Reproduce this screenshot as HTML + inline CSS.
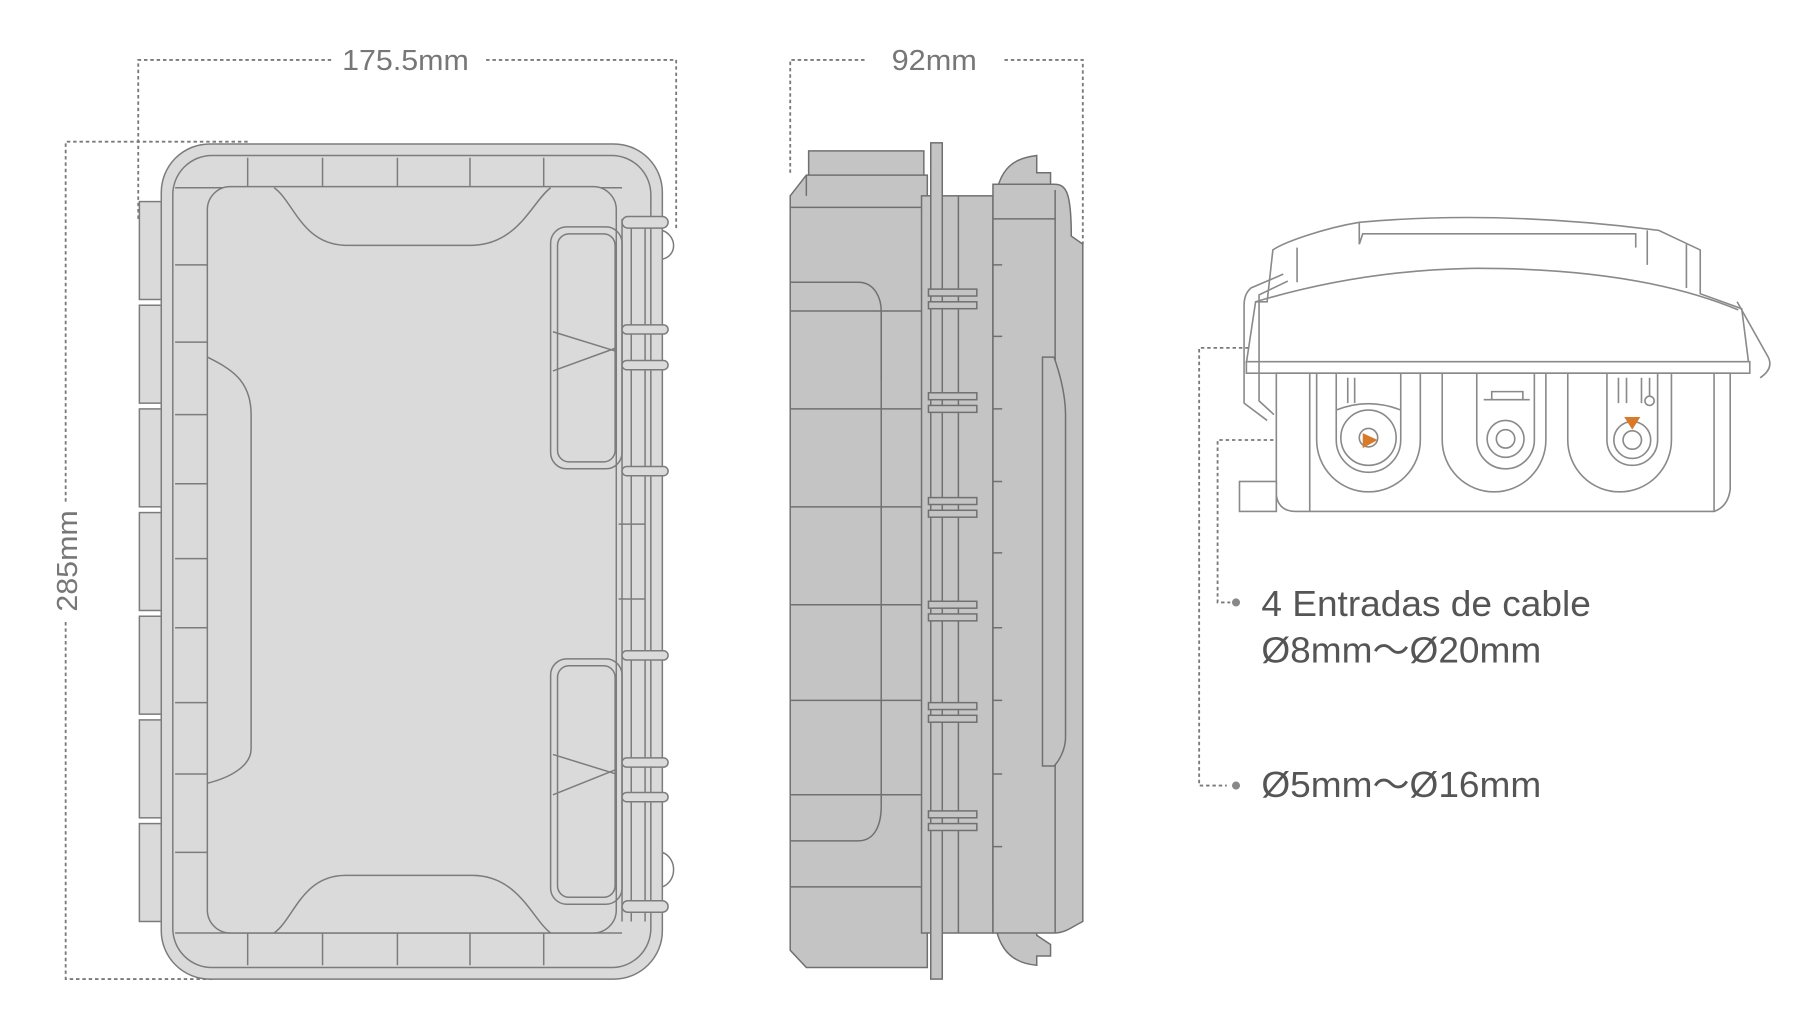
<!DOCTYPE html>
<html><head><meta charset="utf-8"><style>
html,body{margin:0;padding:0;background:#fff;}
svg{display:block;}
</style></head><body>
<svg width="1797" height="1024" viewBox="0 0 1560 889" preserveAspectRatio="none" xmlns="http://www.w3.org/2000/svg">
<rect width="1560" height="889" fill="#fff"/>
<g fill="none" stroke="#7a7a7a" stroke-width="1.6" stroke-dasharray="3,2.5">
  <path d="M120,190 V52 H288 M422,52 H587 V200"/>
  <path d="M215,123 H57 V438 M57,540 V850 H185"/>
  <path d="M686,150 V52 H752 M872,52 H940 V212"/>
  <path d="M1417,365 V302 H1041 V682 H1065"/>
  <path d="M1188,382 H1057 V523 H1068"/>
</g>
<g font-family="Liberation Sans, sans-serif" fill="#777" font-size="25">
  <text x="352" y="61" text-anchor="middle" textLength="110" lengthAdjust="spacingAndGlyphs">175.5mm</text>
  <text x="811" y="61" text-anchor="middle" textLength="74" lengthAdjust="spacingAndGlyphs">92mm</text>
  <text transform="translate(67,487) rotate(-90)" text-anchor="middle" textLength="88" lengthAdjust="spacingAndGlyphs">285mm</text>
</g>
<g font-family="Liberation Sans, sans-serif" fill="#555" font-size="31">
  <text x="1095" y="535" textLength="286" lengthAdjust="spacingAndGlyphs">4 Entradas de cable</text>
  <text x="1095" y="575" textLength="243" lengthAdjust="spacingAndGlyphs">Ø8mm～Ø20mm</text>
  <text x="1095" y="692" textLength="243" lengthAdjust="spacingAndGlyphs">Ø5mm～Ø16mm</text>
</g>
<circle cx="1073" cy="523" r="3.5" fill="#888"/>
<circle cx="1073" cy="682" r="3.5" fill="#888"/>

<!-- FRONT VIEW -->
<g stroke="#7c7c7c" stroke-width="1.3" fill="#dadada">
  <g>
    <rect x="121" y="175" width="30" height="85"/><rect x="121" y="265" width="30" height="85"/>
    <rect x="121" y="355" width="30" height="85"/><rect x="121" y="445" width="30" height="85"/>
    <rect x="121" y="535" width="30" height="85"/><rect x="121" y="625" width="30" height="85"/>
    <rect x="121" y="715" width="30" height="85"/>
  </g>
  <rect x="140" y="125" width="435" height="725" rx="42"/>
  <rect x="150" y="135" width="415" height="705" rx="34" fill="none"/>
  <path d="M152,163 H540 M152,810 H540" fill="none"/>
  <g fill="none">
    <path d="M215,137 V163 M280,137 V163 M345,137 V163 M408,137 V163 M472,137 V163"/>
    <path d="M215,810 V838 M280,810 V838 M345,810 V838 M408,810 V838 M472,810 V838"/>
    <path d="M152,230 H180 M152,297 H180 M152,360 H180 M152,420 H180 M152,485 H180 M152,545 H180 M152,610 H180 M152,672 H180 M152,740 H180"/>
    <path d="M537,455 H560 M537,520 H560"/>
  </g>
  <rect x="180" y="162" width="355" height="648" rx="20"/>
  <path d="M238,163 C255,175 262,212 300,213 H410 C450,212 462,175 478,163" fill="none"/>
  <path d="M238,810 C255,798 262,760 300,760 H410 C450,760 462,798 478,810" fill="none"/>
  <path d="M180,310 C200,320 218,330 218,360 V650 C218,665 200,675 180,680" fill="none"/>
  <rect x="478" y="197" width="62" height="210" rx="14" fill="none"/>
  <rect x="484" y="203" width="50" height="198" rx="10" fill="none"/>
  <path d="M480,288 L535,305 M480,322 L535,302" fill="none"/>
  <rect x="478" y="572" width="62" height="213" rx="14" fill="none"/>
  <rect x="484" y="578" width="50" height="201" rx="10" fill="none"/>
  <path d="M480,655 L535,672 M480,690 L535,668" fill="none"/>
  <path d="M540,190 V800 M548,190 V800 M560,190 V800" fill="none"/>
  <rect x="540" y="188" width="40" height="10" rx="5"/>
  <rect x="540" y="282" width="40" height="8" rx="4"/><rect x="540" y="313" width="40" height="8" rx="4"/>
  <rect x="540" y="405" width="40" height="8" rx="4"/>
  <rect x="540" y="565" width="40" height="8" rx="4"/><rect x="540" y="658" width="40" height="8" rx="4"/>
  <rect x="540" y="688" width="40" height="8" rx="4"/><rect x="540" y="782" width="40" height="10" rx="5"/>
  <path d="M575,200 C588,205 588,222 575,225 M575,740 C588,745 588,765 575,770" fill="none"/>
</g>

<!-- SIDE VIEW -->
<g stroke="#707070" stroke-width="1.3" fill="#c4c4c4">
  <rect x="702" y="131" width="100" height="40"/>
  <path d="M686,170 L700,152 H805 V840 H700 L686,825 Z"/>
  <path d="M700,152 V170 M686,180 H800 M686,270 H800 M686,355 H800 M686,440 H800 M686,525 H800 M686,608 H800 M686,690 H800 M686,770 H800" fill="none"/>
  <path d="M686,245 H745 C760,245 765,260 765,270 V330 M686,730 H745 C760,730 765,715 765,700" fill="none"/>
  <path d="M765,270 V700" fill="none"/>
  <rect x="800" y="170" width="62" height="640"/>
  <rect x="808" y="124" width="10" height="726"/>
  <path d="M832,170 V810" fill="none"/>
  <g>
    <rect x="806" y="251" width="42" height="6"/><rect x="806" y="262" width="42" height="6"/>
    <rect x="806" y="341" width="42" height="6"/><rect x="806" y="352" width="42" height="6"/>
    <rect x="806" y="432" width="42" height="6"/><rect x="806" y="443" width="42" height="6"/>
    <rect x="806" y="522" width="42" height="6"/><rect x="806" y="533" width="42" height="6"/>
    <rect x="806" y="610" width="42" height="6"/><rect x="806" y="621" width="42" height="6"/>
    <rect x="806" y="704" width="42" height="6"/><rect x="806" y="715" width="42" height="6"/>
  </g>
  <path d="M862,200 C862,150 875,138 900,135 V150 H912 V160 H900 V812 L912,820 V830 H900 V838 C875,836 862,820 862,780 Z"/>
  <path d="M862,160 L915,160 C925,160 930,165 930,205 L940,212 V800 C930,805 925,810 915,810 H862 Z"/>
  <path d="M862,190 H916 M916,165 V810" fill="none"/>
  <path d="M905,310 H915 C922,330 925,345 925,360 V640 C925,650 920,660 915,665 H905 Z"/>
  <g fill="none"><path d="M862,230 H870 M862,292 H870 M862,355 H870 M862,418 H870 M862,480 H870 M862,545 H870 M862,608 H870 M862,672 H870 M862,735 H870"/></g>
</g>

<!-- RIGHT VIEW -->
<g stroke="#8a8a8a" stroke-width="1.4" fill="#fff">
  <path d="M1100,262 L1105,217 C1115,210 1150,198 1180,193 Q1300,182 1440,200 L1476,217 L1476,255 L1512,268 L1518,315 L1082,315 L1090,262 Z"/>
  <path d="M1090,262 Q1180,235 1275,233 Q1420,232 1509,269" fill="none"/>
  <path d="M1126,245 V215 M1180,193 V212 L1183,203 H1420 V215 M1430,200 V230 M1464,212 V250" fill="none"/>
  <rect x="1082" y="314" width="437" height="10"/>
  <path d="M1108,324 V430 Q1110,444 1125,444 H1488 Q1500,440 1502,425 V324 Z"/>
  <rect x="1076" y="418" width="32" height="26"/>
  <path d="M1137,324 V444 M1488,324 V444" fill="none"/>
  <path d="M1143,324 V382 A45,45 0 0 0 1233,382 V324 M1252,324 V382 A45,45 0 0 0 1342,382 V324 M1361,324 V382 A45,45 0 0 0 1451,382 V324" fill="none"/>
  <path d="M1160,324 V382 A28,28 0 0 0 1216,382 V324 M1282,324 V382 A25,25 0 0 0 1332,382 V324 M1395,324 V382 A22,22 0 0 0 1439,382 V324" fill="none"/>
  <path d="M1160,356 Q1188,345 1216,356 M1288,347 H1328 M1295,347 V340 H1322 V347" fill="none"/>
  <circle cx="1188" cy="380" r="24"/><circle cx="1188" cy="380" r="8"/>
  <circle cx="1307" cy="381" r="16"/><circle cx="1307" cy="381" r="8"/>
  <circle cx="1417" cy="382" r="16"/><circle cx="1417" cy="382" r="8"/>
  <path d="M1405,328 V350 M1412,328 V350 M1425,328 V350 M1432,328 V350" fill="none"/>
  <circle cx="1432" cy="348" r="4"/>
  <path d="M1170,328 V350 M1176,328 V350" fill="none"/>
  <path d="M1114,238 L1086,250 Q1080,255 1080,265 V350 L1100,365 M1118,244 L1093,256 V348 L1106,360" fill="none"/>
  <path d="M1508,262 L1535,310 Q1540,320 1528,328" fill="none"/>
</g>
<path d="M1183,376 L1196,382 L1183,389 Z" fill="#d87a2a"/>
<path d="M1410,362 L1424,362 L1417,373 Z" fill="#d87a2a"/>
</svg>
</body></html>
